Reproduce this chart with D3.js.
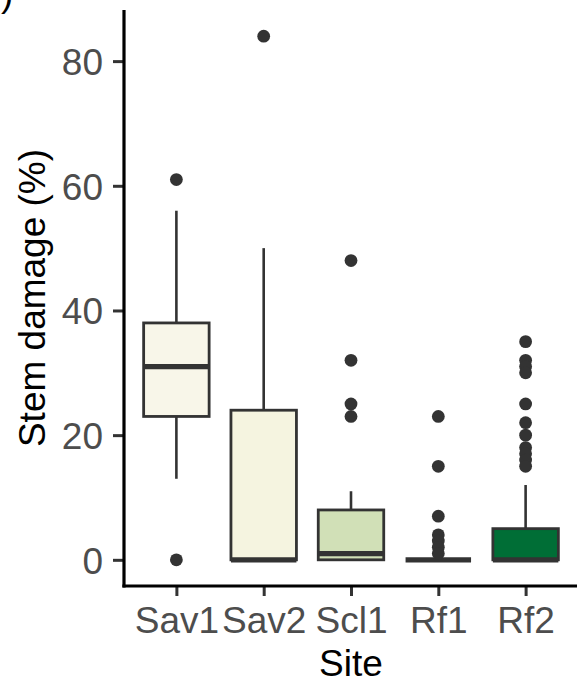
<!DOCTYPE html>
<html>
<head>
<meta charset="utf-8">
<script src="https://cdn.jsdelivr.net/npm/d3@7"></script>
<style>
  html, body { margin: 0; padding: 0; background: #fff; }
  svg { display: block; }
  text { font-family: "Liberation Sans", Arial, Helvetica, sans-serif; }
</style>
</head>
<body>
<svg id="chart" width="577" height="682"></svg>
<script>
// ---- data ----
const sites = ["Sav1", "Sav2", "Scl1", "Rf1", "Rf2"];
const q1 = [23, 0, 0, 0, 0];
const medians = [31, 0, 1, 0, 0];
const q3 = [38, 24, 8, 0, 5];
const whiskerLow = [13, 0, 0, 0, 0];
const whiskerHigh = [56, 50, 11, 0, 12];
const outliers = [
  [61, 0],
  [84],
  [48, 32, 25, 23],
  [23, 15, 7, 4, 3, 2, 1],
  [35, 32, 31, 30, 25, 22, 20, 18, 17, 16, 15]
];
const fills = ["#f8f6e9", "#f5f4e0", "#d1e0b7", "#78c679", "#006e36"];
const yTicks = [0, 20, 40, 60, 80];

// ---- layout ----
const panel = { left: 124, right: 578, top: 10, bottom: 586 };
const svg = d3.select("#chart");

const x = d3.scalePoint().domain(sites).range([panel.left, panel.right]).padding(0.6);
const y = d3.scaleLinear().domain([-4.2, 88.2]).range([panel.bottom, panel.top]);
const boxW = x.step() * 0.75;
const ink = "#333333";

const g = svg.append("g");

sites.forEach((s, i) => {
  const cx = x(s);
  const grp = g.append("g");
  // whiskers
  grp.append("line").attr("x1", cx).attr("x2", cx)
    .attr("y1", y(q3[i])).attr("y2", y(whiskerHigh[i]))
    .attr("stroke", ink).attr("stroke-width", 2.6);
  grp.append("line").attr("x1", cx).attr("x2", cx)
    .attr("y1", y(q1[i])).attr("y2", y(whiskerLow[i]))
    .attr("stroke", ink).attr("stroke-width", 2.6);
  // box
  grp.append("rect")
    .attr("x", cx - boxW / 2).attr("width", boxW)
    .attr("y", y(q3[i])).attr("height", Math.max(0, y(q1[i]) - y(q3[i])))
    .attr("fill", fills[i]).attr("stroke", ink).attr("stroke-width", 2.8);
  // median
  grp.append("line")
    .attr("x1", cx - boxW / 2).attr("x2", cx + boxW / 2)
    .attr("y1", y(medians[i])).attr("y2", y(medians[i]))
    .attr("stroke", ink).attr("stroke-width", 5.2);
  // outliers
  grp.selectAll("circle").data(outliers[i]).join("circle")
    .attr("cx", cx).attr("cy", d => y(d)).attr("r", 6.4)
    .attr("fill", ink);
});

// ---- axes ----
const yAxis = d3.axisLeft(y).tickValues(yTicks).tickSize(11).tickPadding(10);
const ya = svg.append("g").attr("transform", `translate(${panel.left},0)`).call(yAxis);
ya.select(".domain").remove();
ya.selectAll(".tick line").attr("stroke", ink).attr("stroke-width", 3);
ya.selectAll(".tick text").attr("fill", "#4d4d4d").attr("font-size", 37)
  .attr("dy", "0.36em");

const xAxis = d3.axisBottom(x).tickSize(10).tickPadding(11);
const xa = svg.append("g").attr("transform", `translate(0,${panel.bottom})`).call(xAxis);
xa.select(".domain").remove();
xa.selectAll(".tick line").attr("stroke", ink).attr("stroke-width", 3);
xa.selectAll(".tick text").attr("fill", "#4d4d4d").attr("font-size", 37)
  .attr("dy", "0.71em");

// axis lines
svg.append("line").attr("x1", panel.left).attr("x2", panel.left)
  .attr("y1", panel.top).attr("y2", panel.bottom + 1.5)
  .attr("stroke", "#000").attr("stroke-width", 3.2);
svg.append("line").attr("x1", panel.left - 1.6).attr("x2", 577)
  .attr("y1", panel.bottom).attr("y2", panel.bottom)
  .attr("stroke", "#000").attr("stroke-width", 3.2);

// titles
svg.append("text").attr("x", (panel.left + panel.right) / 2).attr("y", 676)
  .attr("text-anchor", "middle").attr("font-size", 37).attr("fill", "#000")
  .text("Site");
svg.append("text")
  .attr("transform", `translate(45,${(panel.top + panel.bottom) / 2}) rotate(-90)`)
  .attr("text-anchor", "middle").attr("font-size", 37).attr("fill", "#000")
  .text("Stem damage (%)");

// panel tag (cut off at top-left in the reference)
svg.append("text").attr("x", 1).attr("y", 6)
  .attr("font-size", 37).attr("fill", "#000").text(")");
</script>
</body>
</html>
